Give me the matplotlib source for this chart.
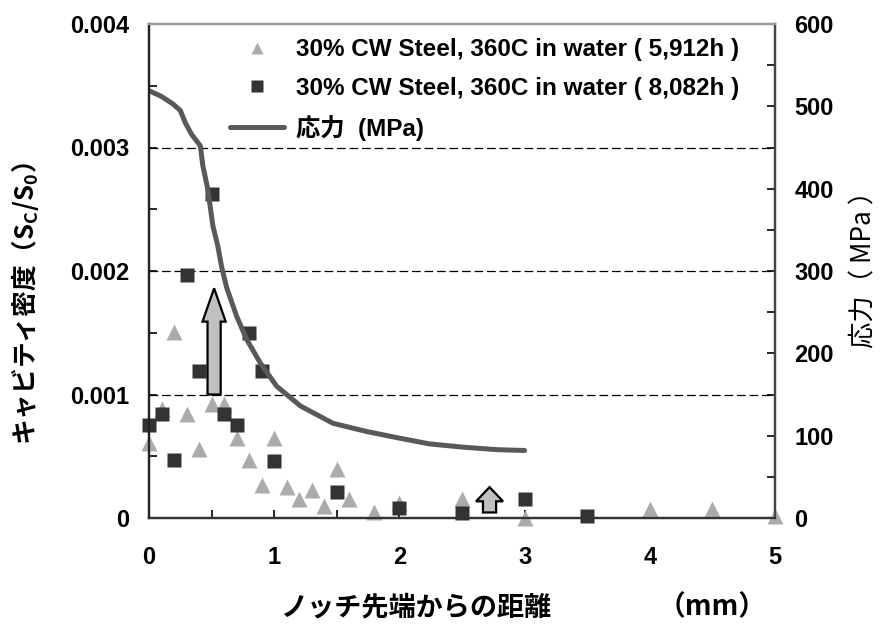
import matplotlib
matplotlib.use('Agg')
import matplotlib.pyplot as plt
from matplotlib.ticker import MultipleLocator, FixedFormatter, FixedLocator

plt.rcParams['font.family'] = ['Liberation Sans', 'Noto Sans CJK JP', 'DejaVu Sans']
plt.rcParams['mathtext.default'] = 'regular'

# 30% CW Steel, 360C in water (5,912h)  -- triangles
x_5912 = [0.0, 0.1, 0.2, 0.3, 0.4, 0.5, 0.6, 0.7, 0.8, 0.9, 1.0, 1.1, 1.2,
          1.3, 1.4, 1.5, 1.6, 1.8, 2.0, 2.5, 3.0, 4.0, 4.5, 5.0]
y_5912 = [0.00061, 0.00088, 0.00151, 0.00084, 0.00056, 0.00092, 0.00092,
          0.00065, 0.00047, 0.00027, 0.00065, 0.00025, 0.00015, 0.00023,
          0.00010, 0.00040, 0.00015, 0.00005, 0.00012, 0.00015, 0.0,
          0.00007, 0.00007, 0.00002]

# 30% CW Steel, 360C in water (8,082h)  -- squares
x_8082 = [0.0, 0.1, 0.2, 0.3, 0.4, 0.5, 0.6, 0.7, 0.8, 0.9, 1.0, 1.5, 2.0,
          2.5, 3.0, 3.5]
y_8082 = [0.00075, 0.00084, 0.00047, 0.00197, 0.00119, 0.00262, 0.00084,
          0.00075, 0.00150, 0.00119, 0.00046, 0.00021, 0.00008, 0.00004,
          0.00015, 0.00002]

# 応力 (MPa)
x_stress = [0.0, 0.1, 0.19, 0.25, 0.29, 0.34, 0.41, 0.43, 0.47, 0.51, 0.55,
            0.58, 0.62, 0.70, 0.78, 0.89, 1.02, 1.21, 1.47, 1.74, 2.0, 2.24,
            2.51, 2.78, 3.0]
y_stress = [519, 512, 503, 495, 480, 466, 452, 428, 399, 355, 330, 305, 280,
            245, 217, 188, 160, 136, 115, 105, 97, 90, 86, 83, 82]

# arrows: (x, y_start, y_end)
arrow_big = (0.52, 0.00100, 0.00186)
arrow_small = (2.72, 0.000045, 0.00025)

left_ticks = [0, 0.001, 0.002, 0.003, 0.004]
left_labels = ['0', '0.001', '0.002', '0.003', '0.004']
right_ticks = [0, 100, 200, 300, 400, 500, 600]
x_ticks = [0, 1, 2, 3, 4, 5]

fig = plt.figure(figsize=(8.8, 6.24), dpi=100)
ax = fig.add_axes([149 / 880, 1 - 518 / 624, (775 - 149) / 880, (518 - 24) / 624])
ax2 = ax.twinx()

ax.set_xlim(0, 5)
ax.set_ylim(0, 0.004)
ax2.set_ylim(0, 600)

for yv in [0.001, 0.002, 0.003]:
    ax.axhline(yv, color='black', lw=0.9, ls=(0, (7, 3)), zorder=0)

tri, = ax.plot(x_5912, y_5912, ls='none', marker='^', ms=11.5, color='#ababab',
               mec='none', clip_on=False, zorder=3)
sq, = ax.plot(x_8082, y_8082, ls='none', marker='s', ms=10.5, color='#333333',
              mec='none', clip_on=False, zorder=4)

for (xa, y0, y1), hl, hw in [(arrow_big, 0.00027, 0.185), (arrow_small, 0.000115, 0.215)]:
    ax.arrow(xa, y0, 0, y1 - y0, width=0.105, head_width=hw, head_length=hl,
             length_includes_head=True, fc='#c0c0c0', ec='black', lw=1.6,
             zorder=5)

line, = ax2.plot(x_stress, y_stress, color='#595959', lw=3.6,
                 solid_capstyle='round', zorder=2)

# ticks
ax.yaxis.set_major_locator(FixedLocator(left_ticks))
ax.yaxis.set_major_formatter(FixedFormatter(left_labels))
ax.yaxis.set_minor_locator(MultipleLocator(0.0005))
ax.xaxis.set_major_locator(FixedLocator(x_ticks))
ax.xaxis.set_minor_locator(MultipleLocator(0.5))
ax2.yaxis.set_major_locator(FixedLocator(right_ticks))
ax2.yaxis.set_minor_locator(MultipleLocator(50))

ax.tick_params(axis='both', which='both', direction='in', length=6, width=1.2,
               labelsize=17)
ax.tick_params(axis='y', pad=14)
ax.tick_params(axis='x', pad=20)
ax2.tick_params(axis='y', which='both', direction='in', length=6, width=1.2,
                labelsize=17, pad=14)
for lab in ax.get_xticklabels() + ax.get_yticklabels() + ax2.get_yticklabels():
    lab.set_fontweight('bold')

for a in (ax, ax2):
    a.spines['left'].set_color('#222222')
    a.spines['bottom'].set_color('#333333')
    a.spines['right'].set_color('#444444')
    a.spines['top'].set_color('#999999')
    for s in a.spines.values():
        s.set_linewidth(1.6)

# legend
leg = ax2.legend([tri, sq, line],
                 ['30% CW Steel, 360C in water ( 5,912h )',
                  '30% CW Steel, 360C in water ( 8,082h )',
                  '応力  (MPa)'],
                 loc='upper left', bbox_to_anchor=(0.095, 1.015), frameon=False,
                 markerscale=0.8, handlelength=2.2, handletextpad=0.5,
                 labelspacing=0.62, prop={'size': 17.5, 'weight': 'bold',
                                          'family': ['Liberation Sans', 'Noto Sans CJK JP']})

# axis titles
fig.text(0.472, 0.027, 'ノッチ先端からの距離', ha='center', va='center',
         fontsize=19.5, fontweight='bold', family=['Noto Sans CJK JP'])
fig.text(0.809, 0.027, '（mm）', ha='center', va='center',
         fontsize=20, fontweight='bold', family=['Noto Sans CJK JP'])
fig.text(0.028, 1 - 304 / 624, 'キャビティ密度（S$_{C}$/S$_{0}$）', ha='center',
         va='center', rotation=90, fontsize=18.5, fontweight='bold',
         family=['Noto Sans CJK JP'])
fig.text(0.982, 1 - 263 / 624, '応力（ MPa ）', ha='center', va='center',
         rotation=90, fontsize=19, family=['Noto Sans CJK JP'])

fig.savefig('out.png', dpi=100)
